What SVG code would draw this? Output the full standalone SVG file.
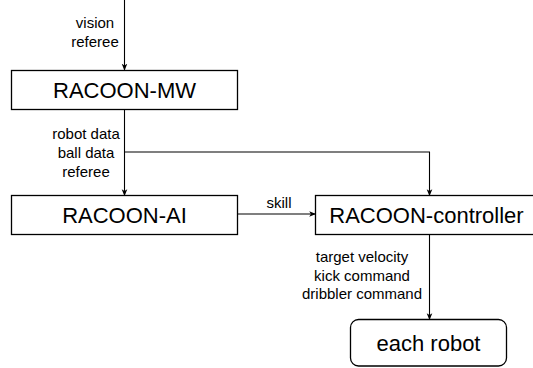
<svg xmlns="http://www.w3.org/2000/svg" width="533" height="368" viewBox="0 0 533 368">
<defs>
<marker id="arr" viewBox="0 0 10 10" refX="9" refY="5" markerWidth="7" markerHeight="7" orient="auto" markerUnits="userSpaceOnUse">
<path d="M0,1 L10,5 L0,9 L2.5,5 z" fill="#000"/>
</marker>
<style>
.box{fill:#fff;stroke:#000;stroke-width:1.3}
.node{font-family:"Liberation Sans",Arial,sans-serif;font-size:22px;fill:#000;text-anchor:middle}
.lbl{font-family:"Liberation Sans",Arial,sans-serif;font-size:15px;fill:#000;text-anchor:middle}
.edge{fill:none;stroke:#000;stroke-width:1.1;marker-end:url(#arr)}
</style>
</defs>
<rect width="533" height="368" fill="#fff"/>
<g id="connectors">
<path class="edge" d="M124.5 0 V70"/>
<path class="edge" d="M124.5 109.5 V195.5"/>
<path class="edge" d="M124.5 152 H429.5 V195.5"/>
<path class="edge" d="M237.5 214 H315.5"/>
<path class="edge" d="M429.5 234.5 V319.5"/>
<text class="lbl" x="95" y="28">vision</text>
<text class="lbl" x="95" y="47">referee</text>
<text class="lbl" x="86" y="138.5">robot data</text>
<text class="lbl" x="86" y="157.5">ball data</text>
<text class="lbl" x="86" y="176.5">referee</text>
<text class="lbl" x="279" y="208">skill</text>
<text class="lbl" x="362" y="262">target velocity</text>
<text class="lbl" x="362" y="280.5">kick command</text>
<text class="lbl" x="362" y="299">dribbler command</text>
</g>
<g id="mw">
<rect class="box" x="11.5" y="70.5" width="226" height="39"/>
<text class="node" x="124.5" y="98">RACOON-MW</text>
</g>
<g id="ai">
<rect class="box" x="11.5" y="195.5" width="226" height="39"/>
<text class="node" x="124.5" y="223">RACOON-AI</text>
</g>
<g id="controller">
<rect class="box" x="315.5" y="195.5" width="228" height="39"/>
<text class="node" x="426.5" y="223">RACOON-controller</text>
</g>
<g id="robot">
<rect class="box" x="350.5" y="319.5" width="156" height="46.5" rx="8" ry="8"/>
<text class="node" x="428.5" y="350.5">each robot</text>
</g>
</svg>
